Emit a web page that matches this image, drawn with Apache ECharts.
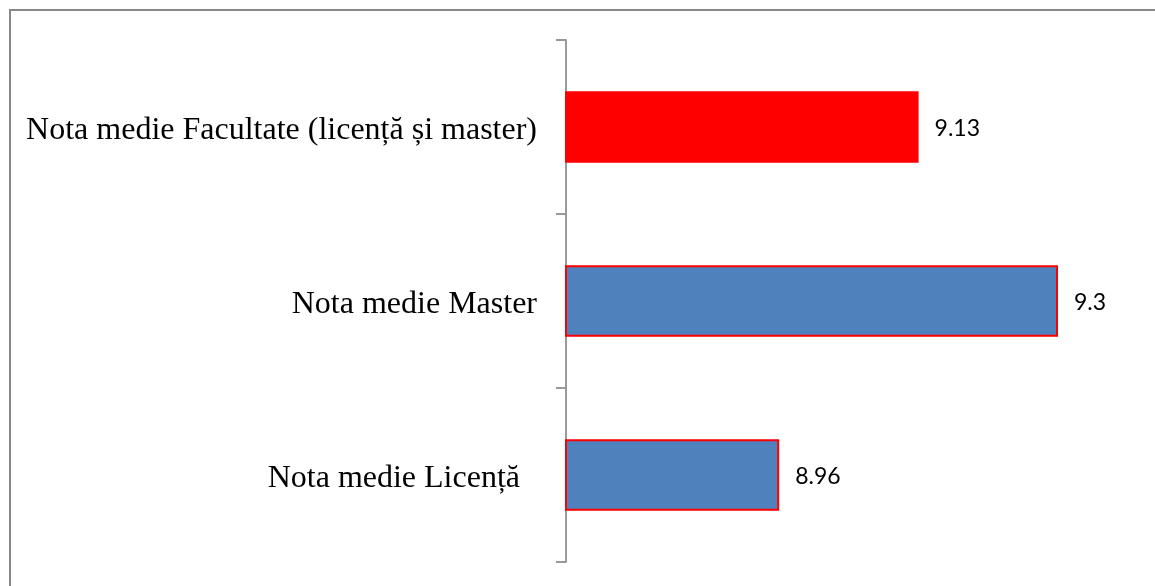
<!DOCTYPE html>
<html>
<head>
<meta charset="utf-8">
<script src="https://cdn.jsdelivr.net/npm/echarts@6/dist/echarts.min.js"></script>
<style>
  html, body { margin: 0; padding: 0; background: #fff; }
  #chart { width: 1155px; height: 586px; }
</style>
</head>
<body>
<div id="chart"></div>
<script>
// categories bottom -> top
const categories = ['Nota medie Licență', 'Nota medie Master', 'Nota medie Facultate (licență și master)'];
const values = [8.96, 9.3, 9.13];
const barColors = ['#4F81BD', '#4F81BD', '#FF0000'];

const chart = echarts.init(document.getElementById('chart'));

const labelFont = {
  color: '#000',
  fontFamily: 'Liberation Serif',
  fontSize: 32
};

const option = {
  animation: false,
  backgroundColor: '#fff',
  graphic: [
    {
      type: 'rect',
      shape: { x: 10, y: 10, width: 1170, height: 620 },
      style: { fill: 'none', stroke: '#888', lineWidth: 2 },
      silent: true
    }
  ],
  grid: {
    left: 566,
    right: 15,
    top: 40,
    bottom: 24
  },
  xAxis: {
    type: 'value',
    min: 8.7,
    max: 9.4,
    show: false
  },
  yAxis: {
    type: 'category',
    data: categories,
    axisLine: { lineStyle: { color: '#999', width: 2 } },
    axisTick: { show: true, length: 10, lineStyle: { color: '#999', width: 2 } },
    axisLabel: {
      margin: 29,
      formatter: (v, i) => (i === 0 ? '{s|' + v + '}' : '{n|' + v + '}'),
      rich: {
        n: Object.assign({ padding: [7, 0, 0, 0] }, labelFont),
        s: Object.assign({ padding: [7, 17, 0, 0] }, labelFont)
      }
    }
  },
  series: [
    {
      type: 'bar',
      barWidth: '41%',
      data: values.map((v, i) => ({
        value: v,
        itemStyle: { color: barColors[i] }
      })),
      itemStyle: { borderColor: '#FF0000', borderWidth: 2 },
      label: {
        show: true,
        position: 'right',
        distance: 16,
        offset: [0, 2],
        color: '#000',
        fontFamily: 'Lato',
        fontSize: 23
      }
    }
  ]
};

chart.setOption(option);
</script>
</body>
</html>
